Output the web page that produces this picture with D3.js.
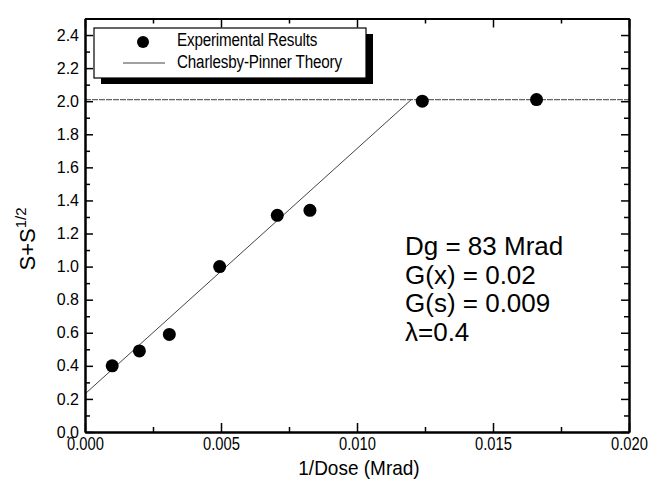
<!DOCTYPE html>
<html>
  <head>
    <script type="text/javascript" src="https://cdn.jsdelivr.net/npm/d3@7"></script>
    <style>
      body {
        margin: 0;
        background: #fff;
      }
      text {
        font-family: 'Liberation Sans', Arial, sans-serif;
        fill: #000;
      }
      .axis path,
      .axis line {
        fill: none;
        stroke: #000;
      }
      .axis .domain {
        stroke-width: 2px;
      }
      .axis line {
        stroke-width: 1.5px;
      }
      .ylab text {
        font-size: 16px;
      }
      .xlab text {
        font-size: 18px;
      }
    </style>
  </head>
  <body>
    <svg id="chart"></svg>

    <script type="text/javascript">
      // data
      var doseInv = [0.001, 0.002, 0.0031, 0.00495, 0.00707, 0.00827, 0.0124, 0.0166];
      var sValues = [0.4, 0.49, 0.59, 1.0, 1.31, 1.34, 2.0, 2.01];
      // Charlesby-Pinner theory line (break points)
      var theoryX = [0.0, 0.012];
      var theoryY = [0.23, 2.01];
      var plateauX = [0.0, 0.02];
      var plateauY = [2.01, 2.01];
      var xTicks = [0, 0.005, 0.01, 0.015, 0.02];
      var xMinor = [0.0025, 0.0075, 0.0125, 0.0175];
      var yTicks = [0, 0.2, 0.4, 0.6, 0.8, 1.0, 1.2, 1.4, 1.6, 1.8, 2.0, 2.2, 2.4];
      var yMinor = [0.1, 0.3, 0.5, 0.7, 0.9, 1.1, 1.3, 1.5, 1.7, 1.9, 2.1, 2.3, 2.5];
      var legendLabels = ['Experimental Results', 'Charlesby-Pinner Theory'];
      var notes = ['Dg = 83 Mrad', 'G(x) = 0.02', 'G(s) = 0.009', '\u03bb=0.4'];

      var svgWidth = 650,
        svgHeight = 484;
      var margin = { left: 85, top: 18.5 };
      var width = 544,
        height = 413.5;

      var svg = d3.select('#chart').attr('width', svgWidth).attr('height', svgHeight);
      var g = svg
        .append('g')
        .attr('transform', 'translate(' + margin.left + ',' + margin.top + ')');

      var x = d3.scaleLinear().domain([0, 0.02]).range([0, width]);
      var y = d3.scaleLinear().domain([0, 2.5]).range([height, 0]);

      // theory lines
      var line = d3
        .line()
        .x(function (d) {
          return x(d[0]);
        })
        .y(function (d) {
          return y(d[1]);
        });
      g.append('path')
        .datum(d3.zip(plateauX, plateauY))
        .attr('d', line)
        .attr('fill', 'none')
        .attr('stroke', '#666')
        .attr('stroke-width', 1.2)
        .attr('stroke-dasharray', '6,1');
      g.append('path')
        .datum(d3.zip(theoryX, theoryY))
        .attr('d', line)
        .attr('fill', 'none')
        .attr('stroke', '#444')
        .attr('stroke-width', 1);

      // points
      g.selectAll('circle.pt')
        .data(d3.zip(doseInv, sValues))
        .enter()
        .append('circle')
        .attr('class', 'pt')
        .attr('cx', function (d) {
          return x(d[0]);
        })
        .attr('cy', function (d) {
          return y(d[1]);
        })
        .attr('r', 6.5)
        .attr('fill', '#000');

      // axes, ticks pointing inward
      var xAxisG = g
        .append('g')
        .attr('class', 'axis xlab')
        .attr('transform', 'translate(0,' + height + ')')
        .call(
          d3.axisBottom(x).tickValues(xTicks).tickSize(-9).tickSizeOuter(0).tickPadding(5)
            .tickFormat(d3.format('.3f'))
        );
      // condensed look of the tick labels
      xAxisG.selectAll('text').attr('transform', 'scale(0.82,1)');
      g.append('g')
        .attr('class', 'axis')
        .attr('transform', 'translate(0,' + height + ')')
        .call(d3.axisBottom(x).tickValues(xMinor).tickSize(-5).tickSizeOuter(0).tickFormat(''));
      g.append('g')
        .attr('class', 'axis')
        .call(d3.axisTop(x).tickValues(xTicks).tickSize(-9).tickSizeOuter(0).tickFormat(''));
      g.append('g')
        .attr('class', 'axis')
        .call(d3.axisTop(x).tickValues(xMinor).tickSize(-5).tickSizeOuter(0).tickFormat(''));

      g.append('g')
        .attr('class', 'axis ylab')
        .call(
          d3.axisLeft(y).tickValues(yTicks).tickSize(-8).tickSizeOuter(0).tickPadding(6)
            .tickFormat(d3.format('.1f'))
        );
      g.append('g')
        .attr('class', 'axis')
        .call(d3.axisLeft(y).tickValues(yMinor).tickSize(-5).tickSizeOuter(0).tickFormat(''));
      g.append('g')
        .attr('class', 'axis')
        .attr('transform', 'translate(' + width + ',0)')
        .call(d3.axisRight(y).tickValues(yTicks).tickSize(-8).tickSizeOuter(0).tickFormat(''));
      g.append('g')
        .attr('class', 'axis')
        .attr('transform', 'translate(' + width + ',0)')
        .call(d3.axisRight(y).tickValues(yMinor).tickSize(-5).tickSizeOuter(0).tickFormat(''));

      // axis titles
      svg.append('text')
        .attr('transform', 'translate(359,475) scale(0.95,1)')
        .attr('text-anchor', 'middle')
        .style('font-size', '20px')
        .text('1/Dose (Mrad)');

      var yTitle = svg
        .append('text')
        .attr('transform', 'translate(35,239) rotate(-90)')
        .attr('text-anchor', 'middle')
        .style('font-size', '22px');
      yTitle.append('tspan').text('S+S');
      yTitle.append('tspan').attr('dy', -9).style('font-size', '15px').text('1/2');

      // legend with drop shadow
      var legend = svg.append('g').attr('transform', 'translate(94,28)');
      legend.append('rect')
        .attr('x', 7)
        .attr('y', 6)
        .attr('width', 272)
        .attr('height', 50)
        .attr('fill', '#000');
      legend.append('rect')
        .attr('width', 272)
        .attr('height', 50)
        .attr('fill', '#fff')
        .attr('stroke', '#000')
        .attr('stroke-width', 1.2);
      legend.append('circle').attr('cx', 49).attr('cy', 14).attr('r', 6).attr('fill', '#000');
      legend.append('line')
        .attr('x1', 29)
        .attr('x2', 71)
        .attr('y1', 35)
        .attr('y2', 35)
        .attr('stroke', '#444')
        .attr('stroke-width', 1);
      legend.selectAll('text.leg')
        .data(legendLabels)
        .enter()
        .append('text')
        .attr('class', 'leg')
        .attr('transform', function (d, i) {
          return 'translate(83,' + (18 + i * 22) + ') scale(0.8,1)';
        })
        .style('font-size', '19px')
        .style('letter-spacing', '-0.2px')
        .text(function (d) {
          return d;
        });

      // annotation block
      svg.selectAll('text.note')
        .data(notes)
        .enter()
        .append('text')
        .attr('class', 'note')
        .attr('x', 405)
        .attr('y', function (d, i) {
          return 255 + i * 28.7;
        })
        .style('font-size', '26px')
        .text(function (d) {
          return d;
        });
    </script>
  </body>
</html>
